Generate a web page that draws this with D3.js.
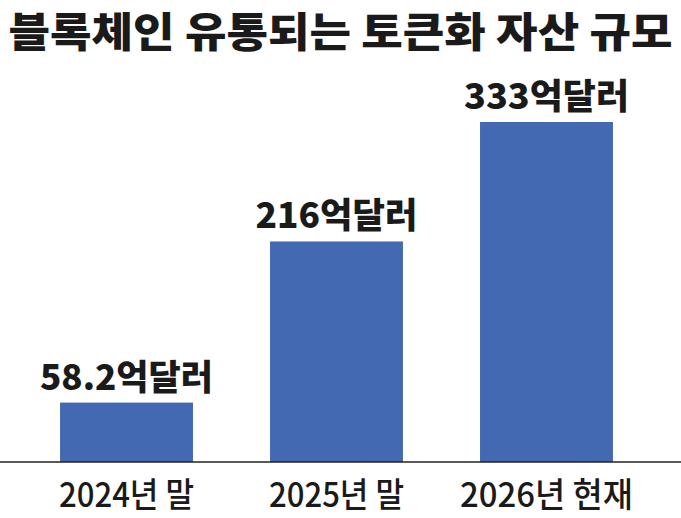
<!DOCTYPE html>
<html><head><meta charset="utf-8">
<script src="https://cdn.jsdelivr.net/npm/d3@7"></script>
<style>
html,body{margin:0;padding:0;background:#fff;}
svg{display:block;}
text{font-family:"Noto Sans CJK KR","Noto Sans",sans-serif;}
</style></head>
<body>
<svg id="chart" width="681" height="518"></svg>
<script>
const title = "블록체인 유통되는 토큰화 자산 규모";
const categories = ["2024년 말", "2025년 말", "2026년 현재"];
const values = [58.2, 216, 333];
const valueLabels = ["58.2억달러", "216억달러", "333억달러"];

const W = 681, H = 518;
const svg = d3.select("#chart");
const baseY = 462;

const x = d3.scaleBand().domain(categories).range([-4, 677]).paddingInner(0.367).paddingOuter(0.305);
const y = d3.scaleLinear().domain([0, 333]).range([baseY, 122]);

function fit(el, width) {
  el.setAttribute("textLength", width);
  el.setAttribute("lengthAdjust", "spacingAndGlyphs");
}

svg.append("text").attr("x", W / 2).attr("y", 47)
  .attr("text-anchor", "middle")
  .attr("font-size", 41).attr("font-weight", 900).attr("fill", "#1a1a1a")
  .text(title).each(function() { fit(this, 664); });

svg.selectAll("rect.bar").data(values).join("rect").attr("class", "bar")
  .attr("x", (d, i) => x(categories[i]))
  .attr("width", x.bandwidth())
  .attr("y", d => y(d))
  .attr("height", d => baseY - y(d))
  .attr("fill", "#4369b2");

svg.append("line").attr("x1", 0).attr("x2", W).attr("y1", baseY).attr("y2", baseY)
  .attr("stroke", "#222").attr("stroke-width", 1.5);

const vlW = [173, 162, 165];
svg.selectAll("text.vl").data(values).join("text").attr("class", "vl")
  .attr("x", (d, i) => x(categories[i]) + x.bandwidth() / 2)
  .attr("y", d => y(d) - 13)
  .attr("text-anchor", "middle")
  .attr("font-size", 35).attr("font-weight", 900).attr("fill", "#1a1a1a")
  .text((d, i) => valueLabels[i])
  .each(function(d, i) { fit(this, vlW[i]); });

const clW = [135, 135, 173];
svg.selectAll("text.cl").data(categories).join("text").attr("class", "cl")
  .attr("x", d => x(d) + x.bandwidth() / 2)
  .attr("y", 507)
  .attr("text-anchor", "middle")
  .attr("font-size", 34).attr("font-weight", 500).attr("fill", "#1a1a1a")
  .text(d => d)
  .each(function(d, i) { fit(this, clW[i]); });
</script>
</body></html>
